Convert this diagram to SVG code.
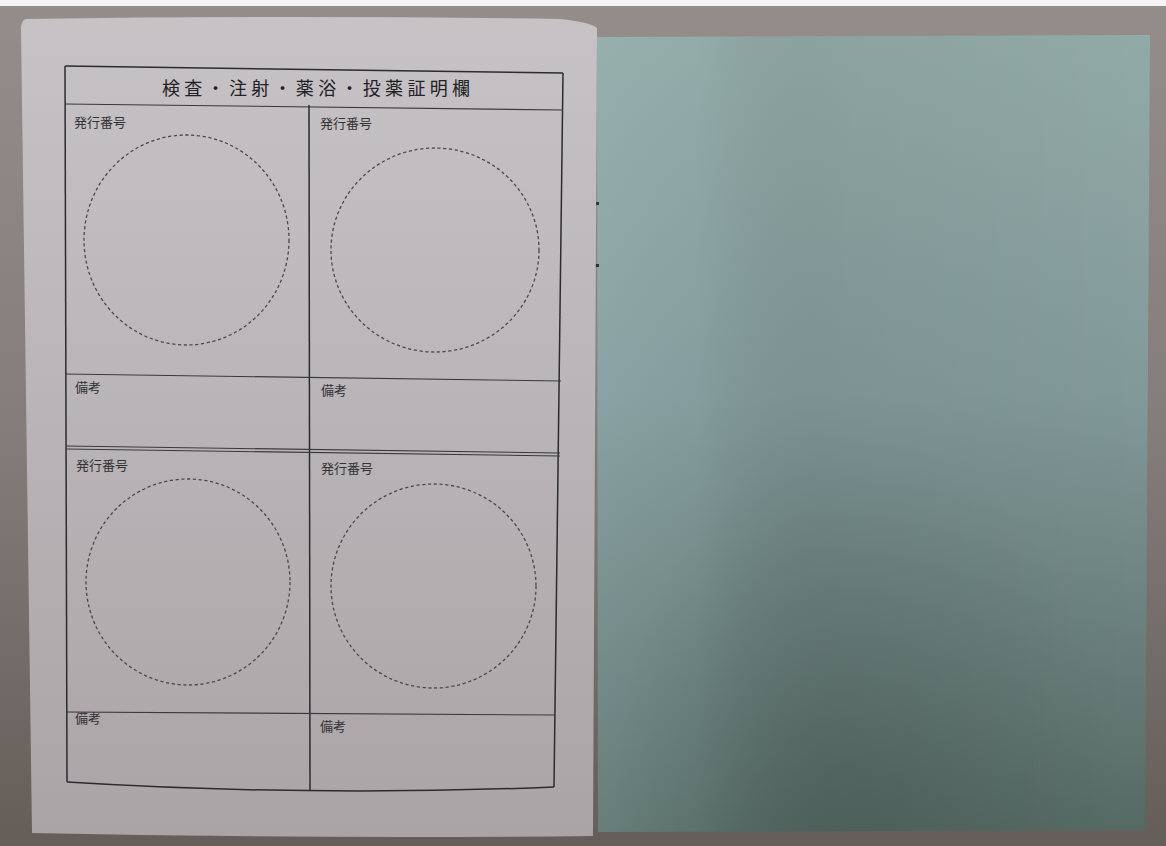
<svg xmlns="http://www.w3.org/2000/svg" width="1166" height="846" viewBox="0 0 1166 846">
  <defs>
    <linearGradient id="bg" x1="0" y1="0" x2="0" y2="1">
      <stop offset="0" stop-color="#958d8a"/>
      <stop offset="0.5" stop-color="#857d7a"/>
      <stop offset="1" stop-color="#655d58"/>
    </linearGradient>
    <linearGradient id="paper" x1="0" y1="0" x2="0" y2="1">
      <stop offset="0" stop-color="#c6c2c5"/>
      <stop offset="0.45" stop-color="#bab5b8"/>
      <stop offset="1" stop-color="#aaa4a6"/>
    </linearGradient>
    <linearGradient id="greenV" x1="0" y1="0" x2="0" y2="1">
      <stop offset="0" stop-color="#92aaa7"/>
      <stop offset="0.45" stop-color="#82999a"/>
      <stop offset="1" stop-color="#566a64"/>
    </linearGradient>
    <linearGradient id="greenH" x1="0" y1="0" x2="1" y2="0">
      <stop offset="0" stop-color="#a8c4c6" stop-opacity="0.22"/>
      <stop offset="0.18" stop-color="#9ab6b9" stop-opacity="0.14"/>
      <stop offset="0.45" stop-color="#000000" stop-opacity="0.04"/>
      <stop offset="0.75" stop-color="#000000" stop-opacity="0.02"/>
      <stop offset="1" stop-color="#000000" stop-opacity="0"/>
    </linearGradient>
    <radialGradient id="greenDark" cx="0.48" cy="0.95" r="0.45">
      <stop offset="0" stop-color="#2f3f3a" stop-opacity="0.18"/>
      <stop offset="1" stop-color="#2f3f3a" stop-opacity="0"/>
    </radialGradient>
    <style>
      .ln { fill: none; stroke: #2b2b31; stroke-width: 1.5; }
      .ln2 { fill: none; stroke: #3a393f; stroke-width: 1.1; }
      .circ { fill: none; stroke: #4a484e; stroke-width: 1.3; stroke-dasharray: 3.2 2.6; }
      .lbl { font-family: "Noto Sans CJK JP", "Noto Sans CJK SC", sans-serif; font-size: 13px; fill: #333237; }
      .title { font-family: "Noto Sans CJK JP", "Noto Sans CJK SC", sans-serif; font-size: 18px; fill: #222126; }
    </style>
  </defs>

  <!-- background -->
  <rect x="0" y="0" width="1166" height="846" fill="url(#bg)"/>
  <rect x="0" y="0" width="1166" height="6" fill="#f4f4f4"/>

  <!-- green right page -->
  <g id="right-page">
    <path d="M597,37 L1150,35 L1145,830 L598,832 Z" fill="url(#greenV)"/>
    <path d="M597,37 L1150,35 L1145,830 L598,832 Z" fill="url(#greenH)"/>
    <path d="M597,37 L1150,35 L1145,830 L598,832 Z" fill="url(#greenDark)"/>
    <rect x="594" y="202" width="5" height="3" fill="#2d3333"/>
    <rect x="594" y="264" width="5" height="3" fill="#2d3333"/>
  </g>

  <!-- left white page -->
  <g id="left-page">
    <path d="M26,19 Q300,15 560,19 Q590,22 597,28 L593,836 Q310,839 32,833 L21,30 Q21,20 26,19 Z" fill="url(#paper)"/>
  </g>

  <!-- table lines -->
  <g id="connectors">
    <path class="ln" d="M65,66 L563,73"/>
    <path class="ln" d="M65,66 L67,782"/>
    <path class="ln" d="M563,73 L554,787"/>
    <path class="ln" d="M67,782 Q310,797 554,787"/>
    <path class="ln2" d="M65,104 L563,110"/>
    <path class="ln" d="M309,105 L310,790"/>
    <path class="ln2" d="M65,374 L561,381"/>
    <path class="ln2" d="M66,446 L560,453"/>
    <path class="ln2" d="M66,449 L560,456"/>
    <path class="ln2" d="M66,712 L555,715"/>
  </g>

  <g id="title">
    <text class="title" x="162" y="95" textLength="308" lengthAdjust="spacing">検査・注射・薬浴・投薬証明欄</text>
  </g>

  <g id="cell-top-left">
    <text class="lbl" x="74" y="127">発行番号</text>
    <ellipse class="circ" cx="186.5" cy="240" rx="102.5" ry="105"/>
    <text class="lbl" x="75" y="392">備考</text>
  </g>

  <g id="cell-top-right">
    <text class="lbl" x="320" y="128">発行番号</text>
    <ellipse class="circ" cx="435" cy="250" rx="104" ry="102"/>
    <text class="lbl" x="321" y="395">備考</text>
  </g>

  <g id="cell-bottom-left">
    <text class="lbl" x="76" y="470">発行番号</text>
    <ellipse class="circ" cx="188" cy="582" rx="102" ry="103"/>
    <text class="lbl" x="75" y="723">備考</text>
  </g>

  <g id="cell-bottom-right">
    <text class="lbl" x="321" y="473">発行番号</text>
    <ellipse class="circ" cx="433.5" cy="586" rx="102.5" ry="102"/>
    <text class="lbl" x="320" y="731">備考</text>
  </g>
</svg>
